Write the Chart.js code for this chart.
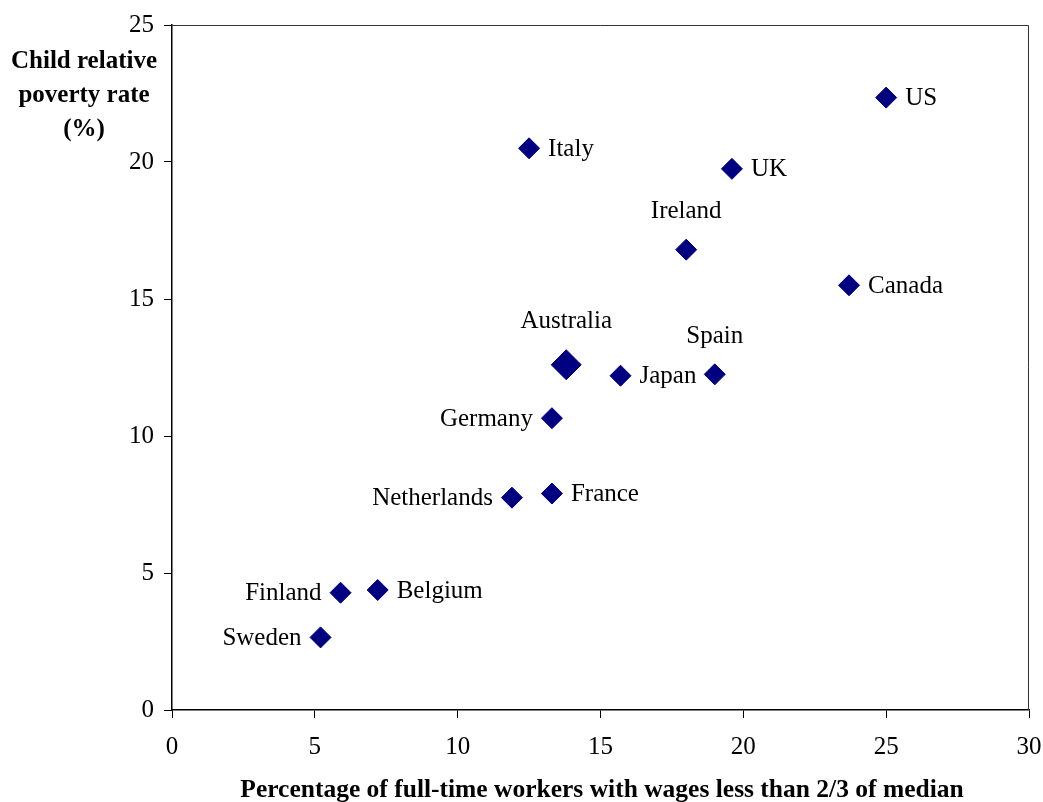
<!DOCTYPE html>
<html>
<head>
<meta charset="utf-8">
<script src="https://cdn.jsdelivr.net/npm/chart.js@4/dist/chart.umd.min.js"></script>
<style>
  html, body { margin: 0; padding: 0; background: #fff; }
  #wrap { width: 1043px; height: 802px; }
</style>
</head>
<body>
<div id="wrap"><canvas id="grafica"></canvas></div>
<script>
// datos
const paises = ["US", "Italy", "UK", "Ireland", "Canada", "Australia", "Japan", "Spain",
  "Germany", "Netherlands", "France", "Finland", "Belgium", "Sweden"];
const salariosBajos = [25.0, 12.5, 19.6, 18.0, 23.7, 13.8, 15.7, 19.0, 13.3, 11.9, 13.3, 5.9, 7.2, 5.2];
const pobrezaInfantil = [22.35, 20.5, 19.75, 16.8, 15.5, 12.6, 12.2, 12.25, 10.65, 7.75, 7.9, 4.28, 4.38, 2.65];
const ticksX = [0, 5, 10, 15, 20, 25, 30];
const ticksY = [0, 5, 10, 15, 20, 25];

// donde va cada etiqueta respecto al punto
const ladoEtiqueta = ["right", "right", "right", "top", "right", "top", "right", "top",
  "left", "left", "right", "left", "right", "left"];

const fuente = "'Liberation Serif', 'Times New Roman', serif";
const azul = "#000080";

const etiquetasPlugin = {
  id: "etiquetas",
  afterDatasetsDraw(chart) {
    const ctx = chart.ctx;
    const meta = chart.getDatasetMeta(0);
    ctx.save();
    ctx.font = "25px " + fuente;
    ctx.fillStyle = "#000";
    ctx.textBaseline = "middle";
    meta.data.forEach(function(p, i) {
      const lado = ladoEtiqueta[i];
      if (lado === "right") {
        ctx.textAlign = "left";
        ctx.fillText(paises[i], p.x + 19, p.y + 1);
      } else if (lado === "left") {
        ctx.textAlign = "right";
        ctx.fillText(paises[i], p.x - 19, p.y + 1);
      } else {
        ctx.textAlign = "center";
        const off = paises[i] === "Australia" ? 43 : 38;
        ctx.fillText(paises[i], p.x, p.y - off);
      }
    });
    ctx.restore();
  }
};

const marcoPlugin = {
  id: "marco",
  afterDraw(chart) {
    const ctx = chart.ctx;
    const a = chart.chartArea;
    ctx.save();
    ctx.strokeStyle = "#333";
    ctx.lineWidth = 1;
    ctx.beginPath();
    ctx.moveTo(a.left, a.top + 0.5);
    ctx.lineTo(a.right - 0.5, a.top + 0.5);
    ctx.lineTo(a.right - 0.5, a.bottom);
    ctx.stroke();

    // titulos de los ejes
    ctx.fillStyle = "#000";
    ctx.font = "bold 25px " + fuente;
    ctx.textAlign = "center";
    ctx.textBaseline = "middle";
    ctx.fillText("Child relative", 84, 62);
    ctx.fillText("poverty rate", 84, 96);
    ctx.fillText("(%)", 84, 130);
    ctx.font = "bold 25.5px " + fuente;
    ctx.fillText("Percentage of full-time workers with wages less than 2/3 of median", 602, 790);
    ctx.restore();
  }
};

new Chart(document.getElementById("grafica"), {
  type: "scatter",
  data: {
    datasets: [{
      data: salariosBajos.map(function(x, i) { return { x: x, y: pobrezaInfantil[i] }; }),
      pointStyle: "rectRot",
      pointRadius: paises.map(function(p) { return p === "Australia" ? 15 : 10.5; }),
      pointHoverRadius: paises.map(function(p) { return p === "Australia" ? 15 : 10.5; }),
      backgroundColor: azul,
      borderColor: azul,
      borderWidth: 1
    }]
  },
  plugins: [etiquetasPlugin, marcoPlugin],
  options: {
    responsive: true,
    maintainAspectRatio: false,
    animation: false,
    layout: { autoPadding: false, padding: { left: 0, top: 25, right: 14, bottom: 0 } },
    plugins: {
      legend: { display: false },
      tooltip: { enabled: false }
    },
    scales: {
      x: {
        type: "linear",
        min: 0,
        max: 30,
        afterBuildTicks: function(s) { s.ticks = ticksX.map(function(v) { return { value: v }; }); },
        afterFit: function(s) { s.height = 92; s.paddingLeft = 0; s.paddingRight = 0; },
        grid: { drawOnChartArea: false, drawTicks: true, tickLength: 8, color: "#000" },
        border: { color: "#000", width: 1.5 },
        ticks: { color: "#000", font: { family: fuente, size: 25 }, padding: 14, maxRotation: 0 }
      },
      y: {
        type: "linear",
        min: 0,
        max: 25,
        afterBuildTicks: function(s) { s.ticks = ticksY.map(function(v) { return { value: v }; }); },
        afterFit: function(s) { s.width = 172; s.paddingTop = 0; s.paddingBottom = 0; },
        grid: { drawOnChartArea: false, drawTicks: true, tickLength: 8, color: "#000" },
        border: { color: "#000", width: 1.5 },
        ticks: { color: "#000", font: { family: fuente, size: 25 }, padding: 10 }
      }
    }
  }
});
</script>
</body>
</html>
